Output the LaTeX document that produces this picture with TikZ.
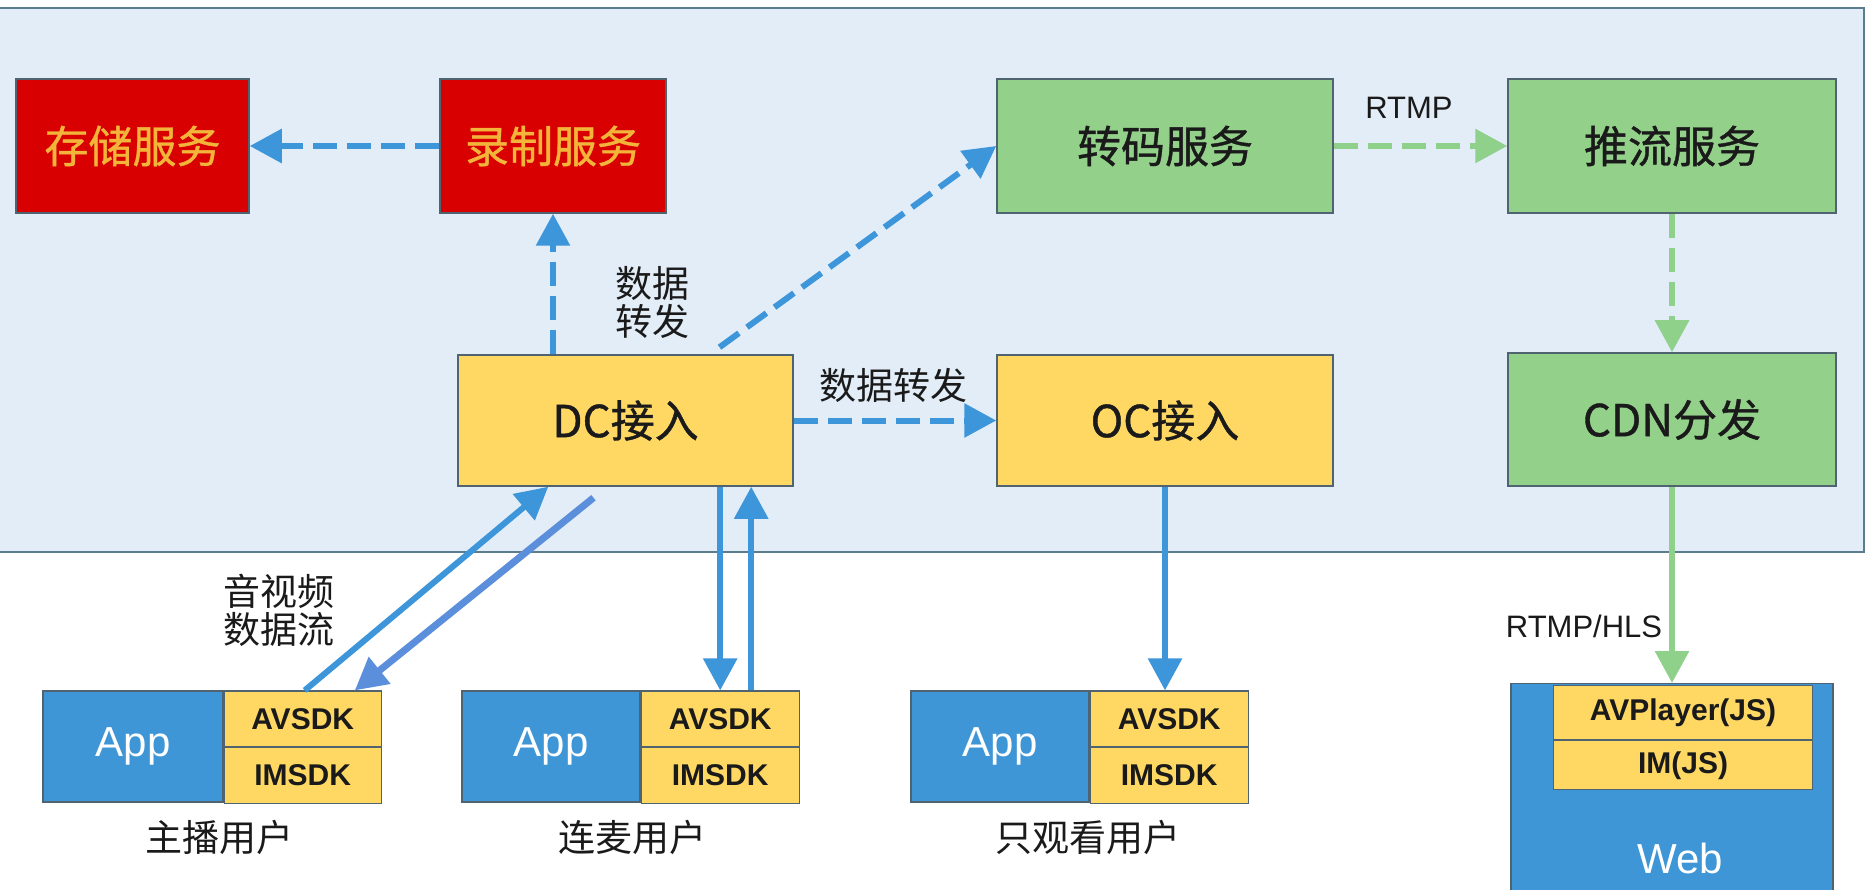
\documentclass[tikz,border=0pt]{standalone}
\usepackage{fontspec}
\setmainfont{Liberation Sans}
\newfontfamily\cjk{Noto Sans CJK SC}
\newfontfamily\cjkbox{Noto Sans CJK SC}[FakeBold=0.9]
\usetikzlibrary{arrows.meta}

\definecolor{panelfill}{HTML}{E2EDF8}
\definecolor{panelline}{HTML}{5B7C8C}
\definecolor{boxline}{HTML}{4F6470}
\definecolor{redfill}{HTML}{D80000}
\definecolor{redtext}{HTML}{F3B43A}
\definecolor{greenfill}{HTML}{93D18A}
\definecolor{yellowfill}{HTML}{FFD864}
\definecolor{appblue}{HTML}{3E96D6}
\definecolor{arrowblue}{HTML}{3D95DA}
\definecolor{arrowblue2}{HTML}{5B8FDC}
\definecolor{arrowgreen}{HTML}{8FD18A}
\definecolor{textdark}{HTML}{1A1A1A}

\tikzset{
  svc/.style={draw=boxline, line width=1.5pt, text=textdark,
    font=\cjkbox\fontsize{44}{50}\selectfont},
  redsvc/.style={svc, fill=redfill, text=redtext},
  greensvc/.style={svc, fill=greenfill},
  yellowsvc/.style={svc, fill=yellowfill},
  appbox/.style={draw=boxline, line width=1.2pt, fill=appblue, text=white,
    inner sep=0pt, font=\fontsize{42}{48}\selectfont},
  sdkbox/.style={draw=boxline, line width=1.2pt, fill=yellowfill, text=textdark,
    inner sep=0pt, font=\bfseries\fontsize{30}{36}\selectfont},
  lbl/.style={text=textdark, font=\cjk\fontsize{37}{42}\selectfont, align=center},
  latinlbl/.style={text=textdark, font=\fontsize{31}{36}\selectfont},
  tipbig/.style={-{Triangle[length=32pt,width=33pt]}},
  bluearrow/.style={draw=arrowblue, line width=6pt, tipbig},
  bluedash/.style={bluearrow, dash pattern=on 24pt off 10pt},
  greenarrow/.style={draw=arrowgreen, line width=6pt, tipbig},
  greendash/.style={greenarrow, dash pattern=on 24pt off 10pt},
}

\begin{document}
\begin{tikzpicture}[x=1pt,y=-1pt]
\useasboundingbox (0,0) rectangle (1873,890);
\fill[white] (0,0) rectangle (1873,890);

% server-side area
\draw[panelline, line width=2pt, fill=panelfill] (-10,8) rectangle (1864,552);

% services
\node[redsvc, minimum width=233, minimum height=134] (store) at (132.5,146) {存储服务};
\node[redsvc, minimum width=226, minimum height=134] (record) at (553,146) {录制服务};
\node[greensvc, minimum width=336, minimum height=134] (trans) at (1165,146) {转码服务};
\node[greensvc, minimum width=328, minimum height=134] (push) at (1672,146) {推流服务};
\node[yellowsvc, minimum width=335, minimum height=131] (dc) at (625.5,420.5) {DC接入};
\node[yellowsvc, minimum width=336, minimum height=131] (oc) at (1165,420.5) {OC接入};
\node[greensvc, minimum width=328, minimum height=133] (cdn) at (1672,419.5) {CDN分发};

% client stacks: App + AVSDK/IMSDK
\node[appbox, minimum width=180, minimum height=111] (app1) at (133,746.5) {App};
\node[sdkbox, minimum width=157, minimum height=55.5, anchor=north west] (av1) at (app1.north east) {AVSDK};
\node[sdkbox, minimum width=157, minimum height=55.5, anchor=north west] (im1) at (av1.south west) {IMSDK};

\node[appbox, minimum width=178, minimum height=111] (app2) at (551,746.5) {App};
\node[sdkbox, minimum width=158, minimum height=55.5, anchor=north west] (av2) at (app2.north east) {AVSDK};
\node[sdkbox, minimum width=158, minimum height=55.5, anchor=north west] (im2) at (av2.south west) {IMSDK};

\node[appbox, minimum width=178, minimum height=111] (app3) at (1000,746.5) {App};
\node[sdkbox, minimum width=158, minimum height=55.5, anchor=north west] (av3) at (app3.north east) {AVSDK};
\node[sdkbox, minimum width=158, minimum height=55.5, anchor=north west] (im3) at (av3.south west) {IMSDK};

\node[lbl] (host) at (219,837) {主播用户};
\node[lbl] (mic) at (632,837) {连麦用户};
\node[lbl] (viewer) at (1088,837) {只观看用户};

% web client
\node[appbox, minimum width=322, minimum height=230, anchor=north] (web) at (1672,683) {};
\node[sdkbox, minimum width=259, minimum height=54, anchor=north] (avp) at (1683,685) {AVPlayer(JS)};
\node[sdkbox, minimum width=259, minimum height=49, anchor=north] (imjs) at (avp.south) {IM(JS)};
\node[text=white, font=\fontsize{42}{48}\selectfont] (webtxt) at (1680,858) {Web};

% connectors inside the server area
\draw[bluedash] (record.west) -- (store.east);
\draw[bluedash] (record.south |- dc.north) -- (record.south);
\draw[bluedash] ([xshift=94pt,yshift=7pt]dc.north) -- (trans.west);
\draw[bluedash] (dc.east) -- (oc.west);
\draw[greendash] (trans.east) -- (push.west);
\draw[greendash] (push.south) -- (cdn.north);

\node[lbl] (fwd1) at (652,302) {数据\\[-4pt]转发};
\node[lbl] (fwd2) at (893,385) {数据转发};
\node[latinlbl] (rtmp) at (1409,108) {RTMP};

% client links
\coordinate (hostup) at ([xshift=91pt]dc.south west);
\coordinate (hostdownstart) at ([xshift=-32pt,yshift=-11pt]dc.south);
\coordinate (hostdownend) at ([xshift=-27pt]av1.north east);
\draw[bluearrow] ([xshift=2pt]av1.north) -- (hostup);
\draw[draw=arrowblue2, line width=7pt, tipbig] (hostdownstart) -- (hostdownend);
\node[lbl] (avflow) at (279,610) {音视频\\[-4pt]数据流};

\draw[bluearrow] (av2.north |- dc.south) -- (av2.north);
\draw[bluearrow] ([xshift=31pt]av2.north) -- ([xshift=31pt]av2.north |- dc.south);

\draw[bluearrow] (oc.south) -- (av3.north -| oc.south);

\draw[greenarrow] (cdn.south) -- (web.north -| cdn.south);
\node[latinlbl] (hls) at (1584,626) {RTMP/HLS};
\end{tikzpicture}
\end{document}
